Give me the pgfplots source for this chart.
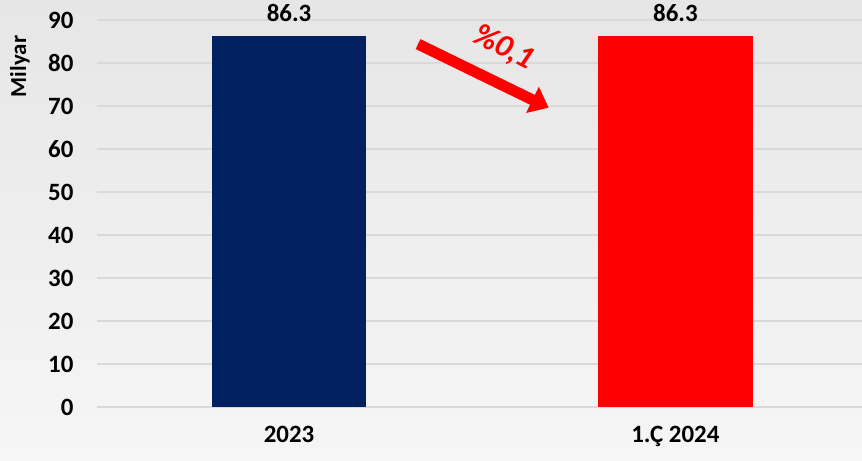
\documentclass[border=0pt]{standalone}
\usepackage{pgfplots}
\pgfplotsset{compat=1.18}
\usepackage{fontspec}
\setmainfont{Carlito}
\usetikzlibrary{backgrounds,arrows.meta}
\definecolor{navy}{RGB}{0,32,96}
\definecolor{gridc}{RGB}{217,217,217}
\definecolor{bgtop}{RGB}{230,230,230}
\definecolor{bgbot}{RGB}{246,246,246}
\begin{document}
\begin{tikzpicture}
\useasboundingbox (-97bp,-54bp) rectangle (765bp,407bp);
\begin{axis}[
  at={(0,0)}, anchor=south west,
  scale only axis,
  width=765bp, height=387bp,
  xmin=-0.497, xmax=1.483,
  ymin=0, ymax=90,
  ytick={0,10,...,90},
  xtick={0,1},
  xticklabels={2023,1.Ç 2024},
  axis line style={draw=none},
  major tick length=0pt,
  ymajorgrids,
  grid style={gridc, line width=2bp},
  tick label style={font=\fontsize{25}{27}\selectfont\bfseries},
  /pgf/number format/assume math mode=true,
  yticklabel style={xshift=-20bp},
  xticklabel style={yshift=-16bp},
  ylabel={Milyar},
  ylabel style={font=\fontsize{23}{25}\selectfont\bfseries, at={(rel axis cs:0,0.88)}, anchor=center, yshift=77bp},
  clip=false,
  ybar, bar width=0.4,
  nodes near coords,
  nodes near coords style={font=\fontsize{25}{27}\selectfont\bfseries, text=black, yshift=11bp, /pgf/number format/.cd, fixed, precision=1, fixed zerofill},
]
\addplot[fill=navy, draw=none, bar shift=0pt] coordinates {(0,86.3)};
\addplot[fill=red, draw=none, bar shift=0pt] coordinates {(1,86.3)};
\draw[red, line width=11bp, -{Triangle[length=18bp, width=28bp]}] (axis cs:0.334,84.4) -- (axis cs:0.672,69.6);
\node[red, rotate=-27, font=\fontsize{32}{34}\selectfont\bfseries\itshape] at (axis cs:0.556,83.5) {\%0,1};
\end{axis}
\begin{scope}[on background layer]
\shade[top color=bgtop, bottom color=bgbot] (-97bp,-54bp) rectangle (765bp,407bp);
\end{scope}
\end{tikzpicture}
\end{document}
